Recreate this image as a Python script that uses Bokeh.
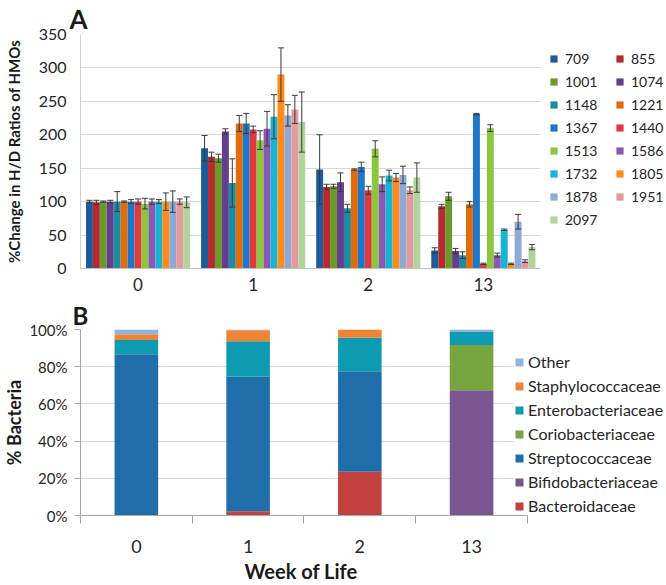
from bokeh.plotting import figure
from bokeh.models import (Range1d, FixedTicker, ColumnDataSource, Legend, LegendItem,
                          Title, NumeralTickFormatter)
from bokeh.layouts import column
from bokeh.embed import file_html
from bokeh.resources import INLINE

FONT = "Lato"
TXT = "#262626"

# ---------------- data: panel A ----------------
weeks = ["0", "1", "2", "13"]
hmo_ids = ["709", "855", "1001", "1074", "1148", "1221", "1367", "1440",
           "1513", "1586", "1732", "1805", "1878", "1951", "2097"]
hmo_colors = ["#1C5C9A", "#B8292F", "#6A9A2C", "#653D8F", "#1B8DA3", "#E36C0A", "#1F77C9",
              "#E03A3E", "#8CC63F", "#8B58B4", "#17B4D6", "#FF8C1A", "#8EA9D6", "#E39A9E", "#B3D39C"]

week0_pct = [100, 99, 100, 100, 100, 100, 100, 100, 97, 100, 100, 100, 100, 100, 99]
week0_err = [2, 3, 1, 2, 15, 1, 3, 4, 8, 4, 3, 13, 16, 4, 8]
week1_pct = [180, 167, 165, 205, 128, 217, 217, 208, 192, 209, 227, 290, 229, 238, 219]
week1_err = [19, 7, 6, 4, 36, 12, 15, 5, 14, 26, 33, 40, 16, 21, 45]
week2_pct = [148, 122, 123, 129, 90, 148, 152, 117, 179, 126, 139, 136, 140, 117, 136]
week2_err = [52, 4, 3, 14, 6, 1, 7, 6, 12, 11, 8, 6, 13, 5, 22]
week13_pct = [27, 93, 108, 26, 20, 96, 231, 7, 210, 20, 58, 7, 70, 11, 32]
week13_err = [4, 3, 6, 4, 5, 4, 1, 1, 5, 3, 1, 1, 11, 2, 4]

# ---------------- data: panel B (percent) ----------------
families = ["Bacteroidaceae", "Bifidobacteriaceae", "Streptococcaceae", "Coriobacteriaceae",
            "Enterobacteriaceae", "Staphylococcaceae", "Other"]
family_colors = ["#C0413E", "#7B5492", "#1F6EAA", "#77A540", "#0E9AB0", "#F08436", "#8DB3E2"]
bacteroidaceae = [0, 2.3, 23.5, 0]
bifidobacteriaceae = [0, 0, 0, 67.4]
streptococcaceae = [86.7, 72.3, 54.1, 0]
coriobacteriaceae = [0, 0, 0, 24.2]
enterobacteriaceae = [7.6, 19.1, 17.9, 7.1]
staphylococcaceae = [3.2, 5.9, 4.5, 0]
other = [2.5, 0.4, 0, 1.3]

W = 666
n_w = len(weeks)
centers = [i + 0.5 for i in range(n_w)]

# ---------------- panel A ----------------
A_left, A_cat = 78, 115.5
pct_by_week = [week0_pct, week1_pct, week2_pct, week13_pct]
err_by_week = [week0_err, week1_err, week2_err, week13_err]

pA = figure(width=W, height=298, output_backend="svg", toolbar_location=None,
            x_range=Range1d(0, (W - A_left) / A_cat), y_range=Range1d(0, 350),
            min_border_left=A_left, min_border_right=0, min_border_top=0, min_border_bottom=30)
pA.outline_line_color = None
pA.xgrid.grid_line_color = None
pA.ygrid.grid_line_color = "#D9D9D9"
pA.ygrid.cross_bounds = (0, n_w)

group = 0.905
bw = group / len(hmo_ids)
legend_rend = {}
for j, (hid, col) in enumerate(zip(hmo_ids, hmo_colors)):
    vals = [pct_by_week[k][j] for k in range(n_w)]
    errs = [err_by_week[k][j] for k in range(n_w)]
    off = -group / 2 + bw * (j + 0.5)
    src = ColumnDataSource(dict(
        x=[c + off for c in centers], top=vals,
        lo=[v - e for v, e in zip(vals, errs)], hi=[v + e for v, e in zip(vals, errs)]))
    r = pA.vbar(x="x", top="top", width=bw, source=src, fill_color=col, line_color=None)
    pA.segment(x0="x", y0="lo", x1="x", y1="hi", source=src, line_color="#3A3A3A", line_width=1)
    pA.scatter(x="x", y="hi", source=src, marker="dash", size=6, line_color="#3A3A3A", line_width=1)
    pA.scatter(x="x", y="lo", source=src, marker="dash", size=6, line_color="#3A3A3A", line_width=1)
    legend_rend[hid] = r

# legend fills column by column: put even-indexed ids in the first column
legend_order = hmo_ids[0::2] + hmo_ids[1::2]
itemsA = [LegendItem(label=h, renderers=[legend_rend[h]]) for h in legend_order]

pA.yaxis.ticker = FixedTicker(ticks=list(range(0, 351, 50)))
pA.xaxis.ticker = FixedTicker(ticks=centers)
pA.xaxis.major_label_overrides = {c: w for c, w in zip(centers, weeks)}
pA.xaxis.bounds = (0, n_w)
for ax in (pA.xaxis[0], pA.yaxis[0]):
    ax.major_tick_out = 0
    ax.major_tick_in = 0
    ax.minor_tick_out = 0
    ax.minor_tick_in = 0
    ax.major_label_text_font = FONT
    ax.major_label_text_color = TXT
pA.yaxis.major_label_text_font_size = "16px"
pA.yaxis.major_label_standoff = 14
pA.yaxis.axis_line_color = "#D0D0D0"
pA.yaxis.axis_label = "%Change in H/D Ratios of HMOs"
pA.yaxis.axis_label_text_font = FONT
pA.yaxis.axis_label_text_font_size = "15px"
pA.yaxis.axis_label_text_font_style = "bold"
pA.yaxis.axis_label_text_color = "#1A1A1A"
pA.yaxis.axis_label_standoff = 13
pA.xaxis.axis_line_color = "#BFBFBF"
pA.xaxis.major_label_text_font_size = "17px"
pA.xaxis.major_label_standoff = 9

legA = Legend(items=itemsA, ncols=2, location=(469, 40), orientation="vertical",
              label_text_font=FONT, label_text_font_size="14px", label_text_color=TXT,
              glyph_width=9, glyph_height=9, label_height=18, label_width=45,
              label_standoff=7, spacing=5, padding=0, margin=0,
              background_fill_alpha=0, border_line_color=None)
pA.add_layout(legA, "center")
pA.add_layout(Title(text="A", align="left", offset=-11, standoff=0,
                    text_font=FONT, text_font_size="26px", text_font_style="bold",
                    text_color="#1A1A1A"), "above")

# ---------------- panel B ----------------
B_left, B_cat = 76, 112.5
fam_values = [bacteroidaceae, bifidobacteriaceae, streptococcaceae, coriobacteriaceae,
              enterobacteriaceae, staphylococcaceae, other]
srcB = ColumnDataSource(dict(x=centers, **{f: [v / 100 for v in vals]
                                           for f, vals in zip(families, fam_values)}))

pB = figure(width=W, height=287, output_backend="svg", toolbar_location=None,
            x_range=Range1d(0, (W - B_left) / B_cat), y_range=Range1d(0, 1),
            min_border_left=B_left, min_border_right=0, min_border_top=0, min_border_bottom=70)
pB.outline_line_color = None
pB.xgrid.grid_line_color = None
pB.ygrid.grid_line_color = "#D9D9D9"
pB.ygrid.cross_bounds = (0, n_w)

rendsB = pB.vbar_stack(families, x="x", width=0.39, source=srcB,
                       fill_color=family_colors, line_color=None)

pB.yaxis.ticker = FixedTicker(ticks=[0, 0.2, 0.4, 0.6, 0.8, 1.0])
pB.yaxis.formatter = NumeralTickFormatter(format="0%")
pB.xaxis.ticker = FixedTicker(ticks=centers, minor_ticks=list(range(n_w + 1)))
pB.xaxis.major_label_overrides = {c: w for c, w in zip(centers, weeks)}
pB.xaxis.bounds = (0, n_w)
for ax in (pB.xaxis[0], pB.yaxis[0]):
    ax.axis_line_color = "#A6A6A6"
    ax.major_tick_line_color = "#A6A6A6"
    ax.minor_tick_line_color = "#A6A6A6"
    ax.major_label_text_font = FONT
    ax.major_label_text_color = TXT
pB.yaxis.major_tick_out = 6
pB.yaxis.major_tick_in = 0
pB.yaxis.minor_tick_out = 0
pB.yaxis.minor_tick_in = 0
pB.yaxis.major_label_text_font_size = "15px"
pB.yaxis.major_label_standoff = 7
pB.yaxis.axis_label = "% Bacteria"
pB.yaxis.axis_label_text_font = FONT
pB.yaxis.axis_label_text_font_size = "18px"
pB.yaxis.axis_label_text_font_style = "bold"
pB.yaxis.axis_label_text_color = "#1A1A1A"
pB.yaxis.axis_label_standoff = 1
pB.xaxis.major_tick_out = 0
pB.xaxis.major_tick_in = 0
pB.xaxis.minor_tick_out = 8
pB.xaxis.minor_tick_in = 0
pB.xaxis.major_label_text_font_size = "18px"
pB.xaxis.major_label_standoff = 16

itemsB = [LegendItem(label=f, renderers=[r]) for f, r in zip(families, rendsB)][::-1]
legB = Legend(items=itemsB, location=(434, 0), orientation="vertical",
              label_text_font=FONT, label_text_font_size="16px", label_text_color=TXT,
              glyph_width=10, glyph_height=10, label_height=19,
              label_standoff=4, spacing=5, padding=0, margin=0,
              background_fill_color="white", background_fill_alpha=1, border_line_color=None)
pB.add_layout(legB, "center")
pB.add_layout(Title(text="B", align="left", offset=-8, standoff=0,
                    text_font=FONT, text_font_size="24px", text_font_style="bold",
                    text_color="#1A1A1A"), "above")
pB.add_layout(Title(text="Week of Life", align="left", offset=164, standoff=2,
                    text_font=FONT, text_font_size="20px", text_font_style="bold",
                    text_color="#1A1A1A"), "below")

layout = column(pA, pB, spacing=0)
open("out.html", "w").write(file_html(layout, INLINE))
